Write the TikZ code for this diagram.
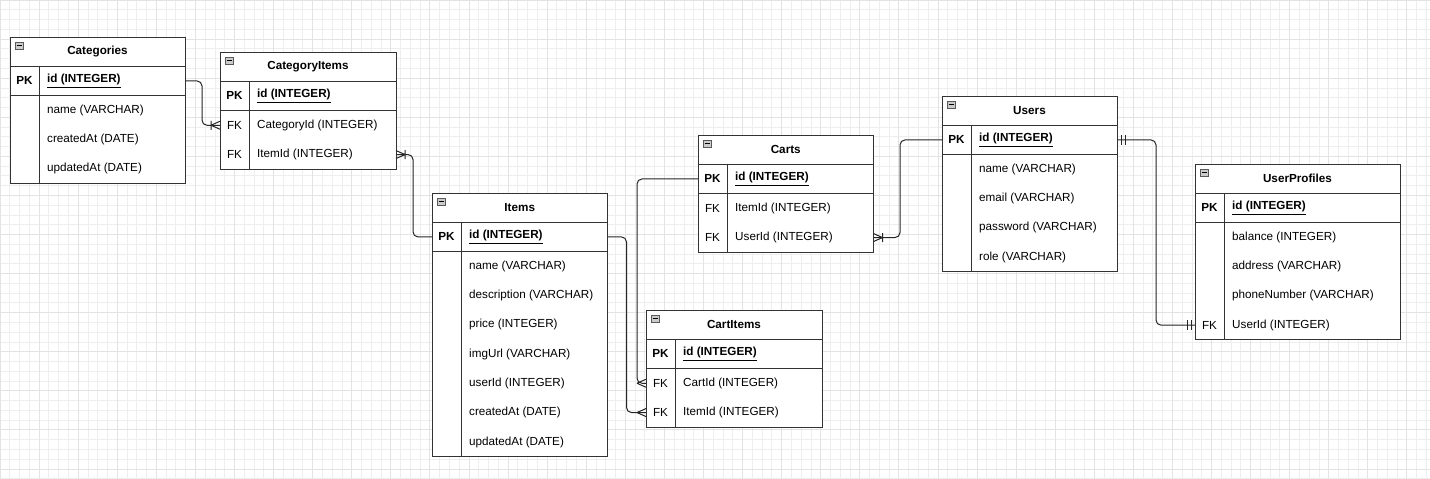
\documentclass[tikz,border=0pt]{standalone}
\usepackage{fontspec}
\setmainfont{Liberation Sans}

\newcommand{\rh}{29.3}
\newcommand{\erfont}{\fontsize{11.7}{14}\selectfont}

\tikzset{
  tablebox/.style={draw=black!80, line width=1pt, fill=white, inner sep=0pt, outer sep=0pt},
  rowline/.style={draw=black!80, line width=1pt},
  keyrow/.style={inner sep=0pt, outer sep=0pt, minimum height=\rh},
  titletext/.style={font=\erfont\bfseries, inner sep=0pt},
  keytext/.style={font=\erfont, inner sep=0pt},
  fieldtext/.style={font=\erfont, inner sep=0pt, anchor=west},
  rel/.style={draw=black!85, line width=1pt, rounded corners=5pt},
  ermark/.style={draw=black!85, line width=1pt},
  crowfoot/.pic={\draw[ermark] (-9,0) -- (0,-4) (-9,0) -- (0,4);},
  onemany/.pic={\draw[ermark] (-9,0) -- (0,-4) (-9,0) -- (0,4) (-9,-4.5) -- (-9,4.5);},
  onlyone/.pic={\draw[ermark] (-4,-5) -- (-4,5) (-8,-5) -- (-8,5);},
}

% #1 name, #2 top left, #3 width, #4 title, #5 key field, #6 number of rows, #7 rows
\newcommand{\ertable}[7]{%
  \begin{scope}[shift={#2}]
    \node[tablebox, minimum width=#3, minimum height={(#6+2)*\rh}, anchor=north west] (#1) at (0,0) {};
    \node[titletext] at (#3/2, 0.5*\rh) {#4};
    \draw[rowline] (0,\rh) -- (#3,\rh) (0,2*\rh) -- (#3,2*\rh) (29,\rh) -- (29,{(#6+2)*\rh});
    % collapse icon
    \draw[fill=gray!40, draw=gray!70!black, line width=0.6pt] (5,5) rectangle (13,12);
    \draw[line width=0.8pt] (6.5,8.5) -- (11.5,8.5);
    \node[keyrow, minimum width=#3, anchor=north west] (#1-id) at (0,\rh) {};
    \node[keytext, font=\erfont\bfseries] at (14.5,1.5*\rh) {PK};
    \node[fieldtext, font=\erfont\bfseries] at (37,1.5*\rh) {\underline{#5}};
    \foreach \k/\f [count=\i] in {#7} {
      \node[keyrow, minimum width=#3, anchor=north west] (#1-\i) at (0,{(\i+1)*\rh}) {};
      \node[keytext] at (14.5,{(\i+1.5)*\rh}) {\k};
      \node[fieldtext] at (37,{(\i+1.5)*\rh}) {\f};
    }
  \end{scope}}

\begin{document}
\begin{tikzpicture}[x=1pt, y=-1pt]
    \useasboundingbox (0,0) rectangle (1430,479);
    \fill[white] (0,0) rectangle (1430,479);
    \draw[gray!13, line width=0.8pt, step=9.77pt] (0,479) grid (1430,0);
    \draw[gray!22, line width=0.8pt, step=39.08pt] (0,479) grid (1430,0);

    \ertable{cat}{(10,37)}{175}{Categories}{id (INTEGER)}{3}{/name (VARCHAR), /createdAt (DATE), /updatedAt (DATE)}
    \ertable{catit}{(220,52)}{176}{CategoryItems}{id (INTEGER)}{2}{FK/CategoryId (INTEGER), FK/ItemId (INTEGER)}
    \ertable{items}{(432,193)}{175.5}{Items}{id (INTEGER)}{7}{/name (VARCHAR), /description (VARCHAR), /price (INTEGER), /imgUrl (VARCHAR), /userId (INTEGER), /createdAt (DATE), /updatedAt (DATE)}
    \ertable{carts}{(698,135)}{175.5}{Carts}{id (INTEGER)}{2}{FK/ItemId (INTEGER), FK/UserId (INTEGER)}
    \ertable{cartit}{(646,310)}{176}{CartItems}{id (INTEGER)}{2}{FK/CartId (INTEGER), FK/ItemId (INTEGER)}
    \ertable{users}{(942,96)}{175}{Users}{id (INTEGER)}{4}{/name (VARCHAR), /email (VARCHAR), /password (VARCHAR), /role (VARCHAR)}
    \ertable{prof}{(1195,164)}{205}{UserProfiles}{id (INTEGER)}{4}{/balance (INTEGER), /address (VARCHAR), /phoneNumber (VARCHAR), FK/UserId (INTEGER)}

    % relations
    \draw[rel] (cat-id.east) -- ++(17,0) |- (catit-1.west);
    \draw[rel] (catit-2.east) -- ++(17,0) |- (items-id.west);
    \draw[rel] (items-id.east) -- ++(19,0) |- (cartit-2.west);
    \draw[rel] (carts-id.west) -- ++(-61,0) |- (cartit-1.west);
    \draw[rel] (users-id.west) -- ++(-42,0) |- (carts-2.east);
    \draw[rel] (users-id.east) -- ++(39,0) |- (prof-4.west);

    \pic at (catit-1.west) {onemany};
    \pic[xscale=-1] at (catit-2.east) {onemany};
    \pic at (cartit-1.west) {crowfoot};
    \pic at (cartit-2.west) {crowfoot};
    \pic[xscale=-1] at (carts-2.east) {onemany};
    \pic[xscale=-1] at (users-id.east) {onlyone};
    \pic at (prof-4.west) {onlyone};
\end{tikzpicture}
\end{document}
